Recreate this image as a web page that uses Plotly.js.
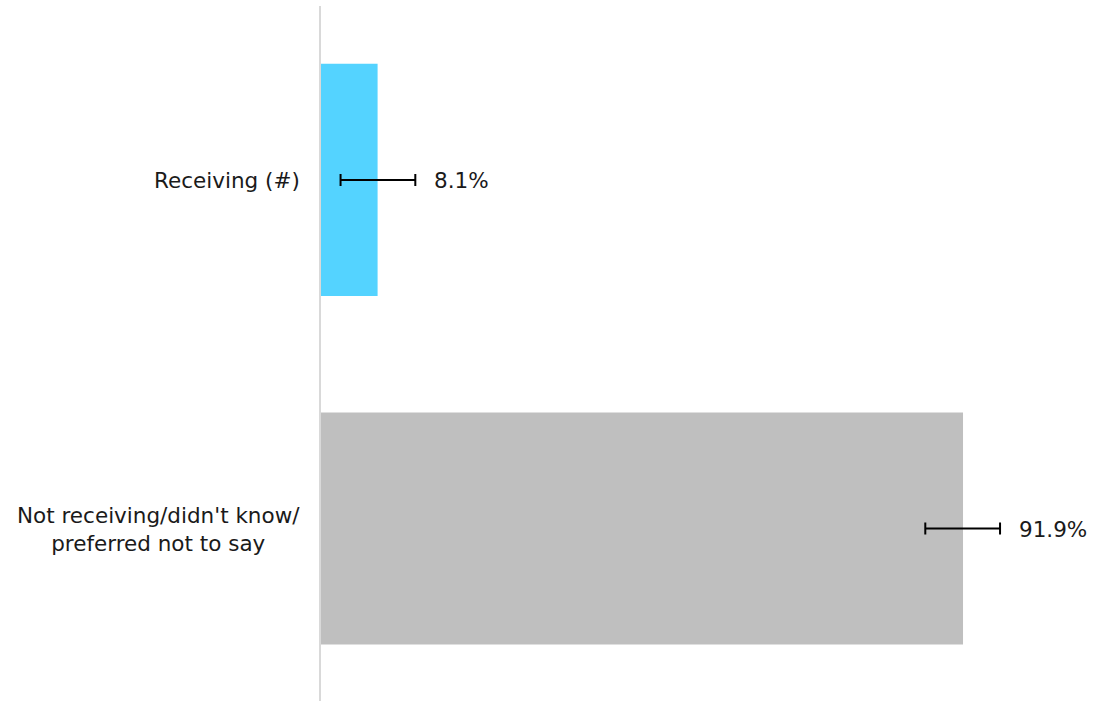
<!DOCTYPE html>
<html>
<head>
<meta charset="utf-8">
<script src="https://cdn.plot.ly/plotly-3.0.1.min.js"></script>
<style>html,body{margin:0;padding:0;background:#fff;}#chart{width:1101px;height:701px;}</style>
</head>
<body>
<div id="chart"></div>
<script>
const categories = ["Receiving (#)", "Not receiving/didn't know/<br>preferred not to say"];
const values = [8.1, 91.9];
const errPlus = [5.4, 5.3];
const errMinus = [5.3, 5.4];
const valueLabels = ["8.1%", "91.9%"];
const barColors = ["#54D3FF", "#BFBFBF"];

const FONT = "'DejaVu Sans', Verdana, sans-serif";
const FSIZE = 21.5;

const trace = {
  type: 'bar',
  orientation: 'h',
  y: categories,
  x: values,
  marker: {color: barColors},
  width: 0.666,
  error_x: {
    type: 'data',
    symmetric: false,
    array: errPlus,
    arrayminus: errMinus,
    color: '#000000',
    thickness: 2,
    width: 6
  },
  hoverinfo: 'none',
  cliponaxis: false
};

const annotations = [];
categories.forEach((c, i) => {
  annotations.push({
    xref: 'paper', yref: 'y', x: 0, y: c,
    text: c, showarrow: false, xanchor: 'right', yanchor: 'middle',
    align: 'center', xshift: -19, yshift: -1,
    font: {family: FONT, size: FSIZE, color: '#1a1a1a'}
  });
  annotations.push({
    xref: 'x', yref: 'y', x: values[i], y: c,
    text: valueLabels[i], showarrow: false, xanchor: 'left', yanchor: 'middle',
    xshift: 54, yshift: -1,
    font: {family: FONT, size: FSIZE, color: '#1a1a1a'}
  });
});

const layout = {
  width: 1101,
  height: 701,
  margin: {l: 321, r: 80, t: 6, b: 0, pad: 0},
  paper_bgcolor: '#ffffff',
  plot_bgcolor: '#ffffff',
  showlegend: false,
  font: {family: FONT, size: FSIZE, color: '#1a1a1a'},
  xaxis: {
    range: [0, 100.2],
    showgrid: false, zeroline: false, showticklabels: false, ticks: '', showline: false
  },
  yaxis: {
    type: 'category',
    categoryorder: 'array',
    categoryarray: categories,
    autorange: false,
    range: [1.495, -0.499],
    showgrid: false, zeroline: false, showticklabels: false, ticks: '',
    showline: true, linecolor: '#d9d9d9', linewidth: 2
  },
  annotations: annotations
};

Plotly.newPlot('chart', [trace], layout, {displayModeBar: false, staticPlot: true});
</script>
</body>
</html>
